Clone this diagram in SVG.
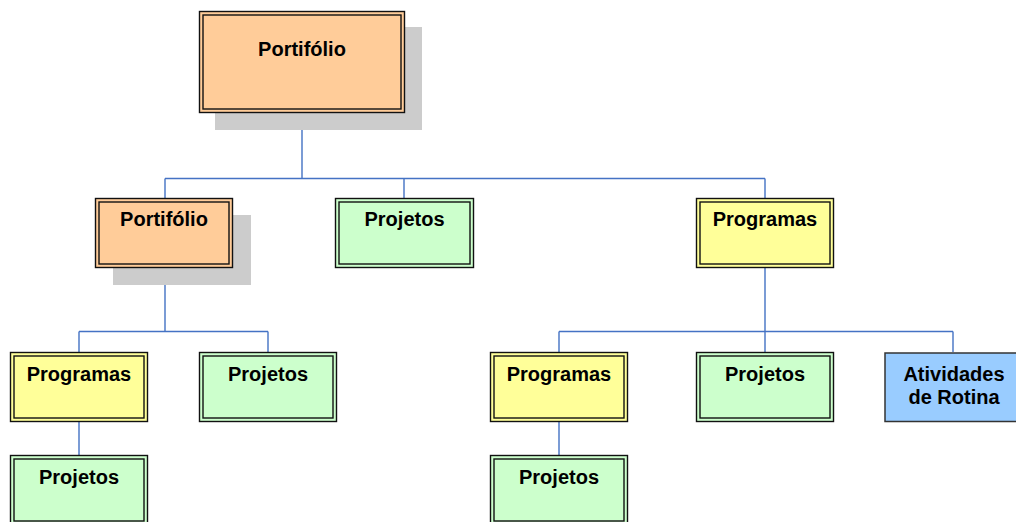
<svg xmlns="http://www.w3.org/2000/svg" width="1016" height="522" viewBox="0 0 1016 522">
  <style>
    .shadow { fill: #cccccc; }
    .outer { stroke: #111111; stroke-width: 1.4; }
    .inner { fill: none; stroke: #111111; stroke-width: 1.4; }
    .orange { fill: #ffcc99; }
    .green { fill: #ccffcc; }
    .yellow { fill: #ffff99; }
    .blue { fill: #99ccff; stroke: #333333; stroke-width: 1.5; }
    .label { font-family: "Liberation Sans", Arial, sans-serif; font-weight: bold; font-size: 20px; fill: #000000; text-anchor: middle; }
    .conn { fill: none; stroke: #4472c4; stroke-width: 1.4; }
  </style>

  <g id="connectors">
    <path class="conn" d="M302 113 V178.5 M165 178.5 H765 M165 178.5 V198 M404 178.5 V198 M765 178.5 V198"/>
    <path class="conn" d="M165 268 V331.5 M79 331.5 H268 M79 331.5 V352 M268 331.5 V352"/>
    <path class="conn" d="M765 268 V331.5 M559 331.5 H953 M559 331.5 V352 M765 331.5 V352 M953 331.5 V352"/>
    <path class="conn" d="M79 422 V455 M559 422 V455"/>
  </g>

  <g id="portfolio-top">
    <rect class="shadow" x="215" y="27" width="207" height="103"/>
    <rect class="outer orange" x="199.5" y="11.5" width="205" height="101"/>
    <rect class="inner" x="203" y="15" width="198" height="94"/>
    <text class="label" x="302" y="56">Portifólio</text>
  </g>

  <g id="portfolio-sub">
    <rect class="shadow" x="113" y="215" width="138" height="70"/>
    <rect class="outer orange" x="95.5" y="198.5" width="137" height="69"/>
    <rect class="inner" x="99" y="202" width="130" height="62"/>
    <text class="label" x="164" y="226">Portifólio</text>
  </g>

  <g id="projetos-1">
    <rect class="outer green" x="335.5" y="198.5" width="138" height="69"/>
    <rect class="inner" x="339" y="202" width="131" height="62"/>
    <text class="label" x="404.5" y="226">Projetos</text>
  </g>

  <g id="programas-1">
    <rect class="outer yellow" x="696.5" y="198.5" width="137" height="69"/>
    <rect class="inner" x="700" y="202" width="130" height="62"/>
    <text class="label" x="765" y="226">Programas</text>
  </g>

  <g id="programas-2">
    <rect class="outer yellow" x="10.5" y="352.5" width="137" height="69"/>
    <rect class="inner" x="14" y="356" width="130" height="62"/>
    <text class="label" x="79" y="381">Programas</text>
  </g>

  <g id="projetos-2">
    <rect class="outer green" x="199.5" y="352.5" width="137" height="69"/>
    <rect class="inner" x="203" y="356" width="130" height="62"/>
    <text class="label" x="268" y="381">Projetos</text>
  </g>

  <g id="programas-3">
    <rect class="outer yellow" x="490.5" y="352.5" width="137" height="69"/>
    <rect class="inner" x="494" y="356" width="130" height="62"/>
    <text class="label" x="559" y="381">Programas</text>
  </g>

  <g id="projetos-3">
    <rect class="outer green" x="696.5" y="352.5" width="137" height="69"/>
    <rect class="inner" x="700" y="356" width="130" height="62"/>
    <text class="label" x="765" y="381">Projetos</text>
  </g>

  <g id="atividades">
    <rect class="blue" x="885" y="353" width="138" height="68.5"/>
    <text class="label" x="954" y="381">Atividades</text>
    <text class="label" x="954" y="404">de Rotina</text>
  </g>

  <g id="projetos-4">
    <rect class="outer green" x="10.5" y="455.5" width="137" height="69"/>
    <rect class="inner" x="14" y="459" width="130" height="62"/>
    <text class="label" x="79" y="484">Projetos</text>
  </g>

  <g id="projetos-5">
    <rect class="outer green" x="490.5" y="455.5" width="137" height="69"/>
    <rect class="inner" x="494" y="459" width="130" height="62"/>
    <text class="label" x="559" y="484">Projetos</text>
  </g>
</svg>
